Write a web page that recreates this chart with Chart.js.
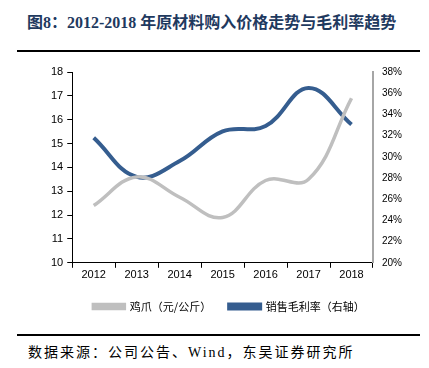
<!DOCTYPE html>
<html>
<head>
<meta charset="utf-8">
<script src="https://cdn.jsdelivr.net/npm/chart.js@4"></script>
<style>
  body { margin: 0; background: #fff; }
  #wrap { position: relative; width: 429px; height: 368px; overflow: hidden; }
  #title {
    position: absolute; left: 27px; top: 9px;
    font: bold 16px "Liberation Serif", "Noto Sans CJK SC", serif;
    color: #1f3a5f; white-space: nowrap;
  }
  .rule { position: absolute; left: 17px; width: 403px; height: 2px; background: #000; }
  #source {
    position: absolute; left: 28px; top: 341px;
    font: 14px "Liberation Serif", "Noto Sans CJK SC", serif;
    letter-spacing: 2px;
    color: #000; white-space: nowrap;
  }
  #box { position: absolute; left: 0; top: 55px; width: 429px; height: 267px; }
</style>
</head>
<body>
<div id="wrap">
  <div id="title">图8：2012-2018 年原材料购入价格走势与毛利率趋势</div>
  <div class="rule" style="top:50px"></div>
  <div id="box"><canvas id="chart"></canvas></div>
  <div class="rule" style="top:334px"></div>
  <div id="source">数据来源：公司公告、Wind，东吴证券研究所</div>
</div>
<script>
const years = ["2012", "2013", "2014", "2015", "2016", "2017", "2018"];
// 鸡爪价格（元/公斤），左轴
const chickenFeet = [12.4, 13.6, 12.75, 11.9, 13.45, 13.5, 16.9];
// 销售毛利率（%），右轴
const grossMargin = [31.8, 28.1, 29.6, 32.4, 32.9, 36.5, 33.05];

const ctx = document.getElementById("chart").getContext("2d");

new Chart(ctx, {
  type: "line",
  data: {
    labels: years,
    datasets: [
      {
        label: "鸡爪（元/公斤）",
        data: chickenFeet,
        yAxisID: "y",
        borderColor: "#bfbfbf",
        backgroundColor: "#bfbfbf",
        borderWidth: 3.5,
        tension: 0.4,
        pointRadius: 0,
      },
      {
        label: "销售毛利率（右轴）",
        data: grossMargin,
        yAxisID: "y1",
        borderColor: "#355d8f",
        backgroundColor: "#355d8f",
        borderWidth: 4,
        tension: 0.4,
        pointRadius: 0,
      },
    ],
  },
  options: {
    responsive: true,
    maintainAspectRatio: false,
    animation: false,
    layout: { padding: { left: 47, right: 18, top: 17, bottom: 0 } },
    plugins: {
      tooltip: { enabled: false },
      legend: {
        position: "bottom",
        labels: {
          boxWidth: 31,
          boxHeight: 4,
          padding: 18,
          color: "#000",
          font: { size: 11, family: "'Noto Sans CJK SC', sans-serif" },
        },
      },
    },
    scales: {
      x: {
        offset: true,
        grid: {
          offset: true,
          drawOnChartArea: false,
          drawTicks: true,
          tickLength: 5,
          color: "#000",
        },
        border: { color: "#000", width: 1 },
        ticks: {
          color: "#000",
          padding: 1,
          font: { size: 11, family: "'Liberation Sans', Arial, sans-serif" },
        },
      },
      y: {
        position: "left",
        min: 10,
        max: 18,
        grid: {
          drawOnChartArea: false,
          drawTicks: true,
          tickLength: 5,
          color: "#000",
        },
        border: { color: "#000", width: 1 },
        ticks: {
          stepSize: 1,
          color: "#000",
          padding: 4,
          font: { size: 11, family: "'Liberation Sans', Arial, sans-serif" },
        },
      },
      y1: {
        position: "right",
        min: 20,
        max: 38,
        grid: { drawOnChartArea: false, drawTicks: false },
        border: { color: "#a6a6a6", width: 2 },
        ticks: {
          stepSize: 2,
          color: "#000",
          padding: 9,
          font: { size: 10, family: "'Liberation Sans', Arial, sans-serif" },
          callback: (v) => v + "%",
        },
      },
    },
  },
});
</script>
</body>
</html>
